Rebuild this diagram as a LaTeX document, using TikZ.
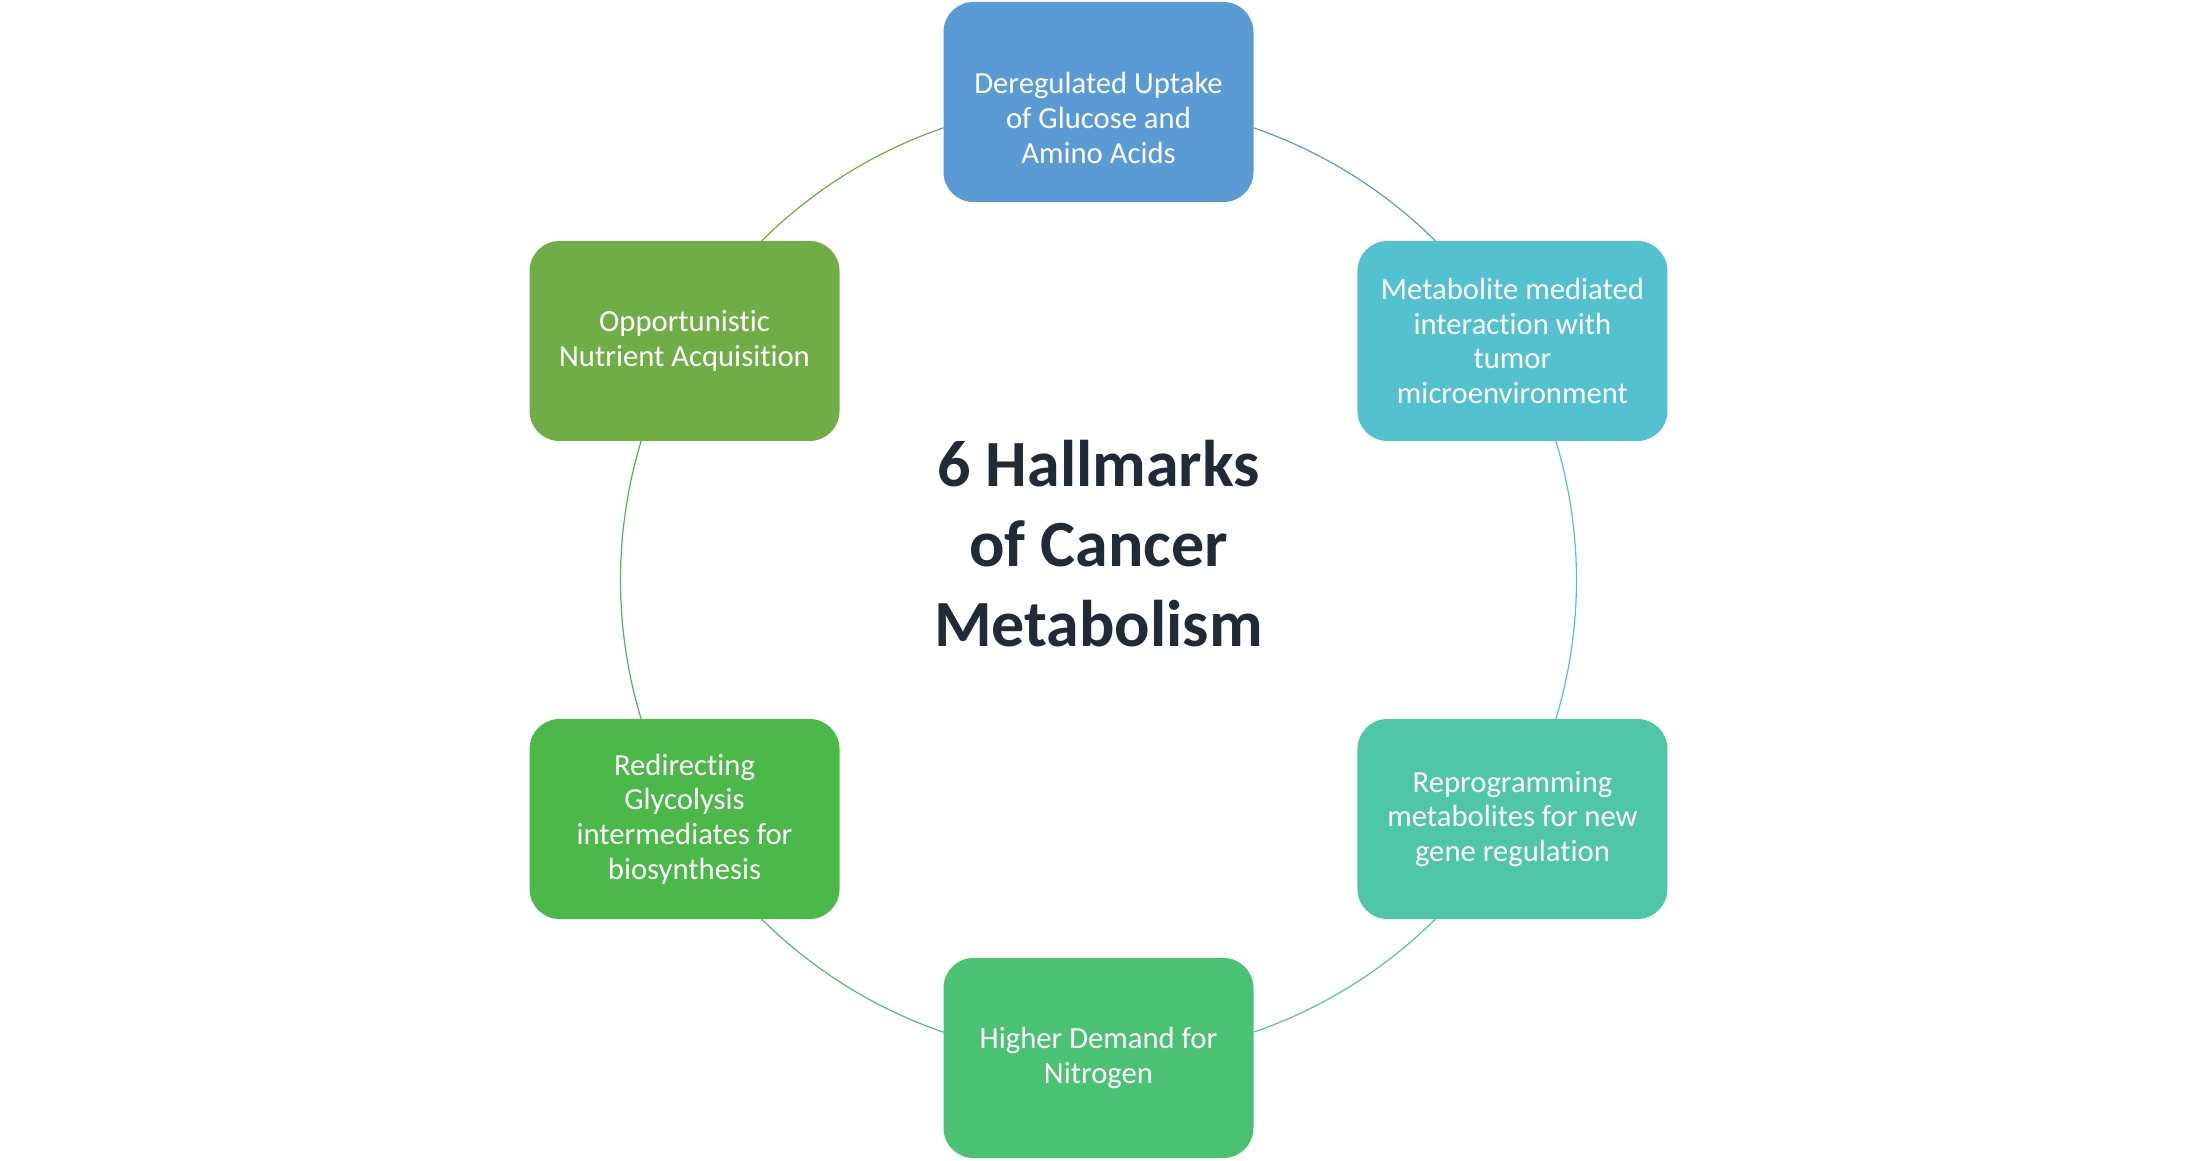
\documentclass[tikz,border=0pt]{standalone}
\usepackage{fontspec}
\setmainfont[RawFeature={-liga;-dlig;-clig}]{Carlito}
\definecolor{cUptake}{HTML}{5B9BD5}
\definecolor{cMicro}{HTML}{54C1CE}
\definecolor{cGene}{HTML}{4FC7A7}
\definecolor{cNitro}{HTML}{4BC173}
\definecolor{cGlyco}{HTML}{4BB849}
\definecolor{cNutri}{HTML}{70AD47}
\definecolor{cTitle}{HTML}{222A35}
\begin{document}
\begin{tikzpicture}[x=0.75pt,y=0.75pt,
  hallmark/.style={rounded corners=22.5pt, minimum width=232.5pt, minimum height=150pt,
    inner sep=0pt, align=center, text=white, font=\fontsize{23}{26}\selectfont},
  boxtext/.style={inner sep=0pt, align=center, text=white, font=\fontsize{23}{26}\selectfont},
  ring/.style={line width=0.9pt}]
\useasboundingbox (-1098.5,-580) rectangle (1098.5,580);
\def\R{478}
% centre of the ring
\coordinate (hub) at (0,0);

% ring segments between neighbouring boxes
\draw[ring, cUptake] ([shift={(71.1:\R)}]hub) arc[start angle=71.1, end angle=45.2, radius=\R];
\draw[ring, cMicro] ([shift={(16.9:\R)}]hub) arc[start angle=16.9, end angle=-16.9, radius=\R];
\draw[ring, cGene] ([shift={(-45.2:\R)}]hub) arc[start angle=-45.2, end angle=-71.1, radius=\R];
\draw[ring, cNitro] ([shift={(-108.9:\R)}]hub) arc[start angle=-108.9, end angle=-134.8, radius=\R];
\draw[ring, cGlyco] ([shift={(-163.1:\R)}]hub) arc[start angle=-163.1, end angle=-196.9, radius=\R];
\draw[ring, cNutri] ([shift={(134.8:\R)}]hub) arc[start angle=134.8, end angle=108.9, radius=\R];

% the six hallmarks
\node[hallmark, fill=cUptake] (uptake) at (90:\R) {};
\node[boxtext] (uptaketext) at ([yshift=-12pt]uptake.center)
  {Deregulated Uptake\\of Glucose and\\Amino Acids};
\node[hallmark, fill=cMicro] (micro) at (30:\R)
  {Metabolite mediated\\interaction with\\tumor\\microenvironment};
\node[hallmark, fill=cGene] (gene) at (-30:\R)
  {Reprogramming\\metabolites for new\\gene regulation};
\node[hallmark, fill=cNitro] (nitro) at (-90:\R)
  {Higher Demand for\\Nitrogen};
\node[hallmark, fill=cGlyco] (glyco) at (-150:\R)
  {Redirecting\\Glycolysis\\intermediates for\\biosynthesis};
\node[hallmark, fill=cNutri] (nutri) at (150:\R)
  {Opportunistic\\Nutrient Acquisition};

% title in the middle
\node[align=center, text=cTitle, inner sep=0pt,
  font=\fontsize{49.5}{60}\selectfont\bfseries] (title) at (0,36)
  {6 Hallmarks\\of Cancer\\Metabolism};
\end{tikzpicture}
\end{document}
